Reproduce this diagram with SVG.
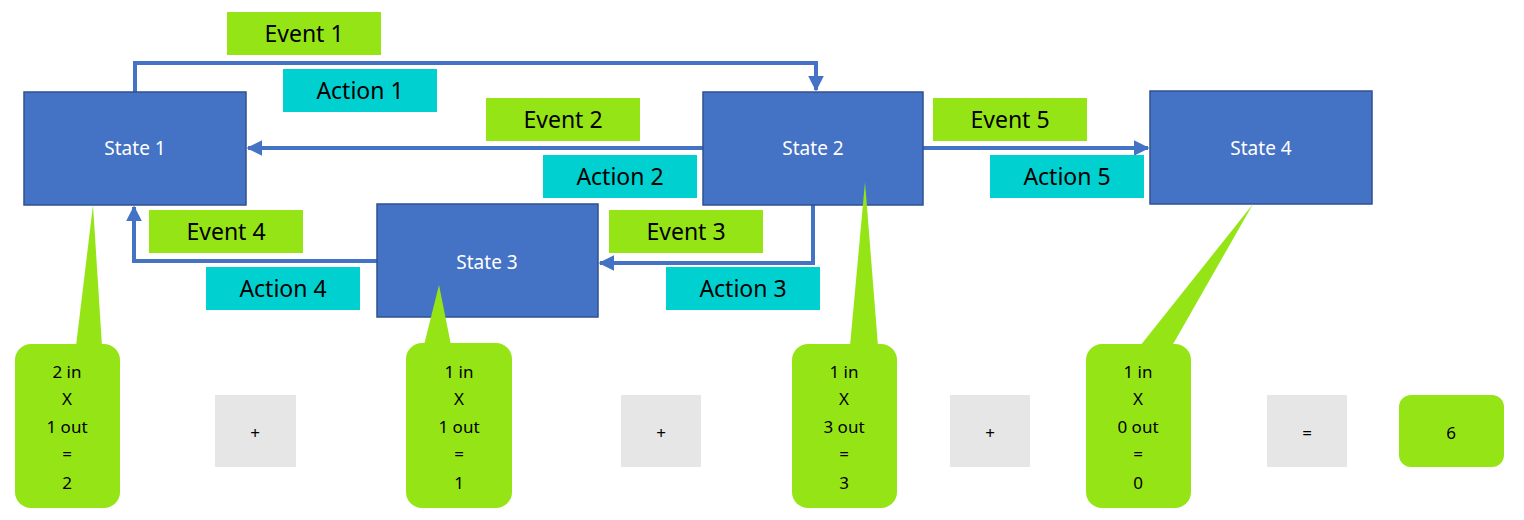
<svg xmlns="http://www.w3.org/2000/svg" width="1524" height="520" viewBox="0 0 1524 520">
<style>
.st{fill:#4472c4;stroke:#2f528f;stroke-width:1.5}
.stt{fill:#fff;font-family:"Noto Sans",sans-serif;font-size:19px;text-anchor:middle}
.ev{fill:#95e516}
.ac{fill:#00d0d0}
.lb{fill:#000;font-family:"Noto Sans",sans-serif;font-size:23px;text-anchor:middle}
.co{fill:#95e516}
.ct{fill:#000;font-family:"Noto Sans",sans-serif;font-size:17px;text-anchor:middle}
.op{fill:#e6e6e6}
.cn{fill:none;stroke:#4472c4;stroke-width:4}
</style>
<defs><marker id="ar" viewBox="0 0 10 10" refX="9" refY="5" markerWidth="4" markerHeight="4" orient="auto" markerUnits="strokeWidth"><path d="M0,0L10,5L0,10z" fill="#4472c4"/></marker></defs>
<g id="connectors">
<path class="cn" d="M135,92V63H816V90" marker-end="url(#ar)"/>
<path class="cn" d="M703,148H248" marker-end="url(#ar)"/>
<path class="cn" d="M923,148H1148" marker-end="url(#ar)"/>
<path class="cn" d="M813,205V263H600" marker-end="url(#ar)"/>
<path class="cn" d="M377,261H134V207" marker-end="url(#ar)"/>
</g>
<g id="state1"><rect class="st" x="24" y="92" width="222" height="113"/><text class="stt" x="135" y="155">State 1</text></g>
<g id="state2"><rect class="st" x="703" y="92" width="220" height="113"/><text class="stt" x="813" y="155">State 2</text></g>
<g id="state3"><rect class="st" x="377" y="204" width="221" height="113"/><text class="stt" x="487" y="269">State 3</text></g>
<g id="state4"><rect class="st" x="1150" y="91" width="222" height="113"/><text class="stt" x="1261" y="155">State 4</text></g>
<g id="event1"><rect class="ev" x="227" y="12" width="154" height="43"/><text class="lb" x="304" y="42">Event 1</text></g>
<g id="action1"><rect class="ac" x="283" y="69" width="154" height="43"/><text class="lb" x="360" y="99">Action 1</text></g>
<g id="event2"><rect class="ev" x="486" y="98" width="154" height="43"/><text class="lb" x="563" y="128">Event 2</text></g>
<g id="action2"><rect class="ac" x="543" y="155" width="154" height="43"/><text class="lb" x="620" y="185">Action 2</text></g>
<g id="event5"><rect class="ev" x="933" y="98" width="154" height="43"/><text class="lb" x="1010" y="128">Event 5</text></g>
<g id="action5"><rect class="ac" x="990" y="155" width="154" height="43"/><text class="lb" x="1067" y="185">Action 5</text></g>
<g id="event4"><rect class="ev" x="149" y="210" width="154" height="43"/><text class="lb" x="226" y="240">Event 4</text></g>
<g id="action4"><rect class="ac" x="206" y="267" width="154" height="43"/><text class="lb" x="283" y="297">Action 4</text></g>
<g id="event3"><rect class="ev" x="609" y="210" width="154" height="43"/><text class="lb" x="686" y="240">Event 3</text></g>
<g id="action3"><rect class="ac" x="666" y="267" width="154" height="43"/><text class="lb" x="743" y="297">Action 3</text></g>
<g id="callout1"><rect class="co" x="15" y="344" width="105" height="164" rx="16"/><path class="co" d="M76,346L93,205L102,346z"/>
<text class="ct"><tspan x="67" y="378">2 in</tspan><tspan x="67" y="405">X</tspan><tspan x="67" y="433">1 out</tspan><tspan x="67" y="460">=</tspan><tspan x="67" y="489">2</tspan></text></g>
<g id="callout2"><rect class="co" x="406" y="343" width="106" height="165" rx="16"/><path class="co" d="M424,345L439,285L451,345z"/>
<text class="ct"><tspan x="459" y="378">1 in</tspan><tspan x="459" y="405">X</tspan><tspan x="459" y="433">1 out</tspan><tspan x="459" y="460">=</tspan><tspan x="459" y="489">1</tspan></text></g>
<g id="callout3"><rect class="co" x="792" y="344" width="105" height="164" rx="16"/><path class="co" d="M850,346L865,182L878,346z"/>
<text class="ct"><tspan x="844" y="378">1 in</tspan><tspan x="844" y="405">X</tspan><tspan x="844" y="433">3 out</tspan><tspan x="844" y="460">=</tspan><tspan x="844" y="489">3</tspan></text></g>
<g id="callout4"><rect class="co" x="1086" y="344" width="105" height="164" rx="16"/><path class="co" d="M1140,346L1253,204L1172,346z"/>
<text class="ct"><tspan x="1138" y="378">1 in</tspan><tspan x="1138" y="405">X</tspan><tspan x="1138" y="433">0 out</tspan><tspan x="1138" y="460">=</tspan><tspan x="1138" y="489">0</tspan></text></g>
<g id="op1"><rect class="op" x="215" y="395" width="81" height="72"/><text class="ct" x="255" y="439">+</text></g>
<g id="op2"><rect class="op" x="621" y="395" width="80" height="72"/><text class="ct" x="661" y="439">+</text></g>
<g id="op3"><rect class="op" x="950" y="395" width="80" height="72"/><text class="ct" x="990" y="439">+</text></g>
<g id="op4"><rect class="op" x="1267" y="395" width="80" height="72"/><text class="ct" x="1307" y="439">=</text></g>
<g id="result"><rect class="co" x="1399" y="395" width="105" height="72" rx="12"/><text class="ct" x="1451" y="439">6</text></g>
</svg>
